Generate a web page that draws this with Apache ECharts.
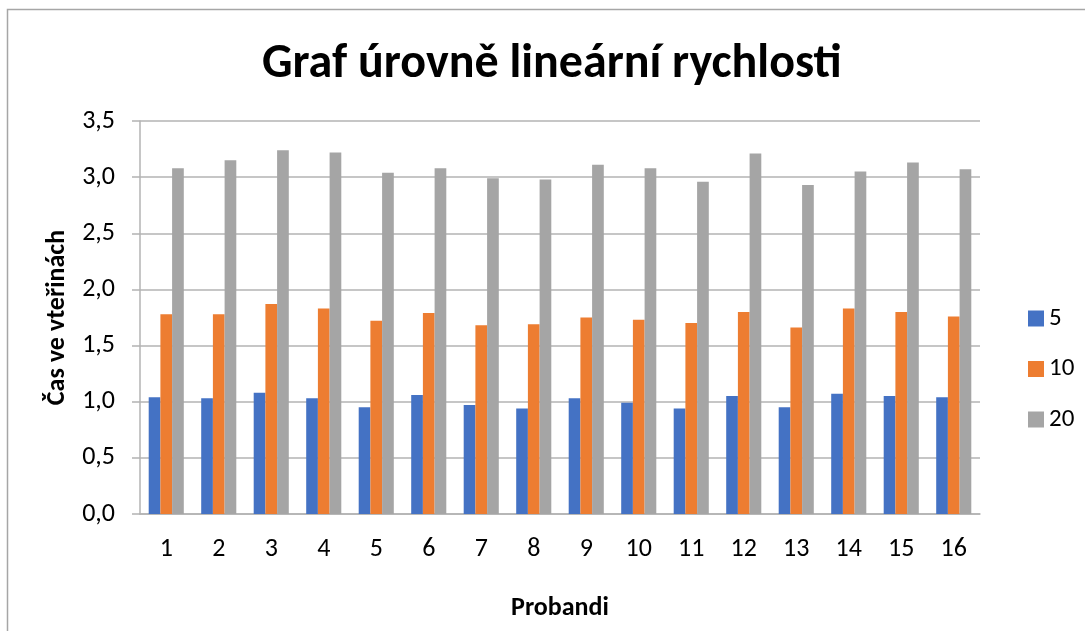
<!DOCTYPE html>
<html>
<head>
<meta charset="utf-8">
<script src="https://cdn.jsdelivr.net/npm/echarts@6/dist/echarts.min.js"></script>
<style>html,body{margin:0;padding:0;background:#fff}#c{width:1085px;height:631px}</style>
</head>
<body>
<div id="c"></div>
<script>
const categories = ['1','2','3','4','5','6','7','8','9','10','11','12','13','14','15','16'];
const seriesNames = ['5','10','20'];
const values5  = [1.04,1.03,1.08,1.03,0.95,1.06,0.97,0.94,1.03,0.99,0.94,1.05,0.95,1.07,1.05,1.04];
const values10 = [1.78,1.78,1.87,1.83,1.72,1.79,1.68,1.69,1.75,1.73,1.70,1.80,1.66,1.83,1.80,1.76];
const values20 = [3.08,3.15,3.24,3.22,3.04,3.08,2.99,2.98,3.11,3.08,2.96,3.21,2.93,3.05,3.13,3.07];
const colors = ['#4472c4','#ed7d31','#a5a5a5'];
const FONT = 'Carlito, Calibri, "Open Sans", sans-serif';

const chart = echarts.init(document.getElementById('c'), null, {renderer:'canvas'});
const allVals = [values5, values10, values20];
chart.setOption({
  animation:false,
  backgroundColor:'#fff',
  title:{text:'Graf úrovně lineární rychlosti', left:257, top:36,
    textStyle:{fontFamily:FONT, fontWeight:'bold', fontSize:48, color:'#000'}},
  graphic:[{type:'rect', shape:{x:7.5,y:9.5,width:1200,height:800}, style:{fill:'none', stroke:'#a6a6a6', lineWidth:1.5}, silent:true}],
  legend:{orient:'vertical', left:1023, top:301, itemWidth:16, itemHeight:16, itemGap:25.5, icon:'rect',
    textStyle:{fontFamily:FONT, fontSize:25, color:'#000'}, data:seriesNames},
  grid:{left:140, right:105, top:121, bottom:117, containLabel:false},
  xAxis:{type:'category', data:categories, name:'Probandi', nameLocation:'middle', nameGap:81,
    nameTextStyle:{fontFamily:FONT, fontWeight:'bold', fontSize:26, color:'#000'},
    axisLine:{lineStyle:{color:'#b3b3b3', width:1.5}}, axisTick:{show:false},
    axisLabel:{fontFamily:FONT, fontSize:26, color:'#000', margin:22}},
  yAxis:{type:'value', min:0, max:3.5, interval:0.5, name:'Čas ve vteřinách', nameLocation:'middle', nameGap:70,
    nameRotate:90,
    nameTextStyle:{fontFamily:FONT, fontWeight:'bold', fontSize:26, color:'#000'},
    axisLine:{show:true, lineStyle:{color:'#b3b3b3', width:1.5}},
    axisTick:{show:true, length:8, lineStyle:{color:'#b3b3b3', width:1.5}},
    splitLine:{lineStyle:{color:'#b3b3b3', width:1.5}},
    axisLabel:{fontFamily:FONT, fontSize:26, color:'#000', margin:25,
      formatter:v=>v.toFixed(1).replace('.',',')}},
  series: seriesNames.map((n,i)=>({name:n, type:'bar', data:allVals[i], barWidth:11.7, barGap:'0%',
    itemStyle:{color:colors[i]}}))
});
</script>
</body>
</html>
